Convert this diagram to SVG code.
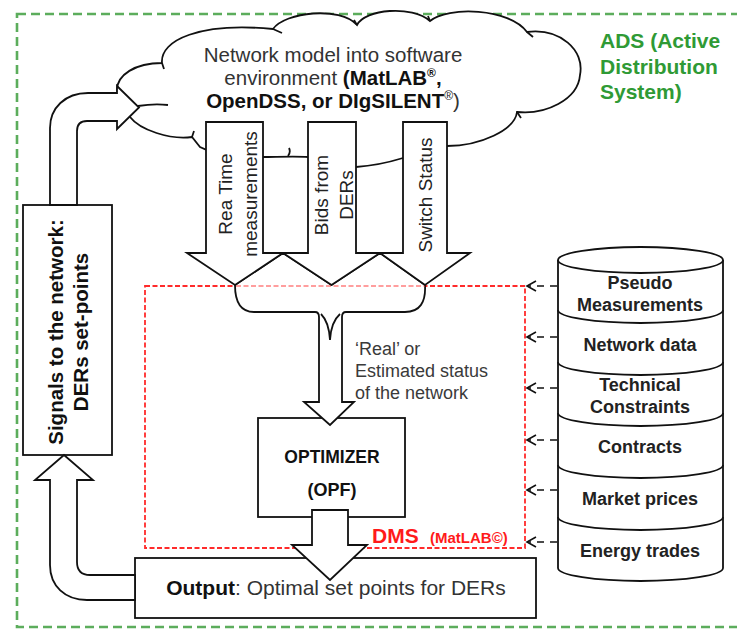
<svg xmlns="http://www.w3.org/2000/svg" width="737" height="630" viewBox="0 0 737 630">
  <style>
    .t { font-family: "Liberation Sans", Arial, sans-serif; fill: #222; }
    .b { font-weight: bold; }
    .shape { fill: #fff; stroke: #111; stroke-width: 1.8; stroke-linejoin: miter; }
    .line { fill: none; stroke: #111; stroke-width: 1.8; }
    .dash-in { fill: none; stroke: #111; stroke-width: 1.6; stroke-dasharray: 7 6; }
  </style>
  <defs>
    <marker id="openHead" markerUnits="userSpaceOnUse" markerWidth="14" markerHeight="14" refX="11" refY="7" orient="auto">
      <path d="M2,2 L11,7 L2,12" fill="none" stroke="#111" stroke-width="1.6" stroke-dasharray="none"/>
    </marker>
  </defs>

  <!-- Active distribution system boundary -->
  <g id="ads">
    <rect x="17" y="14" width="740" height="613" fill="none" stroke="#5cad5c" stroke-width="2.6" stroke-dasharray="9 5"/>
    <text class="t b" x="600" y="48" font-size="21" style="fill:#2f9a35">ADS (Active</text>
    <text class="t b" x="600" y="74" font-size="21" style="fill:#2f9a35">Distribution</text>
    <text class="t b" x="600" y="99" font-size="21" style="fill:#2f9a35">System)</text>
  </g>

  <!-- Network model cloud -->
  <g id="cloud">
    <path class="shape" d="M117,90 C117,75 135,63 162,63 C160,40 200,22 273,29 C285,12 340,6 357,25 C365,9 412,5 430,21 C447,6 510,8 527,32 C560,28 585,50 580,75 C578,100 545,115 517,112 C515,130 480,146 447,146 L403,158 C390,162 370,166 356,167 L308,157 C295,156 275,157 263,157 L207,150 L200,147 L192,137 C170,140 140,130 130,117 Z"/>
    <path class="line" d="M162,63 L164,69 M273,29 L282,33 M357,25 L354,20 M430,21 L428,16 M527,32 L533,37 M517,112 L521,118 M192,137 L194,131 M288,156 Q291,152 289,148 M138,106 C150,104 160,104 168,105"/>
    <text class="t" x="333" y="62" font-size="20.5" text-anchor="middle" style="fill:#333">Network model into software</text>
    <text class="t" x="333" y="85" font-size="20.5" text-anchor="middle"><tspan style="fill:#333">environment </tspan><tspan class="b" style="fill:#111">(MatLAB</tspan><tspan class="b" style="fill:#111" font-size="12" dy="-8">®</tspan><tspan class="b" style="fill:#111" dy="8">,</tspan></text>
    <text class="t" x="333" y="108" font-size="20.5" text-anchor="middle"><tspan class="b" style="fill:#111">OpenDSS, or DIgSILENT</tspan><tspan font-size="12" dy="-8">®</tspan><tspan dy="8" style="fill:#333">)</tspan></text>
  </g>

  <!-- Data sources cylinder -->
  <g id="database">
    <path class="shape" d="M558,260 L558,568 A82.5,13 0 0 0 723,568 L723,260"/>
    <ellipse class="shape" cx="640.5" cy="260" rx="82.5" ry="13"/>
    <path class="line" d="M558,310 A82.5,13 0 0 0 723,310 M558,362 A82.5,13 0 0 0 723,362 M558,413 A82.5,13 0 0 0 723,413 M558,465 A82.5,13 0 0 0 723,465 M558,517 A82.5,13 0 0 0 723,517"/>
    <g class="t b" font-size="18" text-anchor="middle">
      <text x="640" y="289">Pseudo</text>
      <text x="640" y="311">Measurements</text>
      <text x="640" y="351">Network data</text>
      <text x="640" y="391">Technical</text>
      <text x="640" y="413">Constraints</text>
      <text x="640" y="453">Contracts</text>
      <text x="640" y="505">Market prices</text>
      <text x="640" y="557">Energy trades</text>
    </g>
  </g>

  <!-- Distribution management system -->
  <g id="dms">
    <rect x="145" y="286" width="380" height="262" fill="none" stroke="#ff2b2b" stroke-width="1.8" stroke-dasharray="5 2.5"/>
    <text class="t b" x="372" y="543" font-size="21" style="fill:#ff1a1a">DMS</text>
    <text class="t b" x="430" y="543" font-size="15" style="fill:#ff1a1a">(MatLAB©)</text>
    <text class="t" x="355" y="355" font-size="18" style="fill:#3a3a3a">‘Real’ or</text>
    <text class="t" x="355" y="377" font-size="18" style="fill:#3a3a3a">Estimated status</text>
    <text class="t" x="355" y="399" font-size="18" style="fill:#3a3a3a">of the network</text>
  </g>

  <g id="optimizer">
    <rect class="shape" x="258" y="418" width="147" height="99"/>
    <text class="t b" x="332" y="463" font-size="17.5" text-anchor="middle" style="fill:#111">OPTIMIZER</text>
    <text class="t b" x="332" y="496" font-size="18" text-anchor="middle" style="fill:#111">(OPF)</text>
  </g>

  <g id="output">
    <rect class="shape" x="135" y="558" width="401" height="60"/>
    <text class="t" x="336" y="595" font-size="21" text-anchor="middle"><tspan class="b" style="fill:#111">Output</tspan><tspan style="fill:#333">: Optimal set points for DERs</tspan></text>
  </g>

  <g id="signals">
    <rect class="shape" x="23" y="205" width="89" height="250"/>
    <g transform="translate(75,332) rotate(-90)">
      <text class="t b" x="0" y="-12" font-size="20.5" text-anchor="middle" style="fill:#111">Signals to the network:</text>
      <text class="t b" x="0" y="13" font-size="20.5" text-anchor="middle" style="fill:#111">DERs set-points</text>
    </g>
  </g>

  <!-- Connectors -->
  <g id="connectors">
    <!-- merged inputs feeding the optimizer -->
    <path class="shape" d="M235,285 L283,253 L331.5,285 L380,253 L425,285 C426,302 420,312 405,312 L346,312 Q342,312 342,317 L342,402 L354,402 L330,425 L304,402 L319,402 L319,317 Q319,312 315,312 L254,312 C241,312 235,302 235,285 Z"/>
    <path class="line" d="M321,314 Q329,322 330,340 Q331,322 340,314"/>
    <line x1="236" y1="286" x2="425" y2="286" stroke="#ff2b2b" stroke-width="1.8" stroke-dasharray="5 2.5" opacity="0.45"/>

    <!-- inputs from the network model -->
    <path class="shape" d="M206,122 L263,122 L263,253 L283,253 L235,285 L187,253 L206,253 Z"/>
    <path class="shape" d="M308,122 L356,122 L356,253 L380,253 L331.5,285 L283,253 L308,253 Z"/>
    <path class="shape" d="M403,122 L447,122 L447,253 L470,253 L425,285 L380,253 L403,253 Z"/>
    <g class="t" font-size="19" text-anchor="middle">
      <g transform="translate(234,194) rotate(-90)">
        <text x="0" y="-2">Rea Time</text>
        <text x="0" y="23">measurements</text>
      </g>
      <g transform="translate(332,195) rotate(-90)">
        <text x="0" y="-4">Bids from</text>
        <text x="0" y="21">DERs</text>
      </g>
      <g transform="translate(425,195) rotate(-90)">
        <text x="0" y="7">Switch Status</text>
      </g>
    </g>

    <!-- optimizer to output -->
    <path class="shape" d="M312,510 L348,510 L348,545 L367,545 L330,580 L292,545 L312,545 Z"/>

    <!-- output to signals box -->
    <path class="shape" d="M135,575 L90,575 Q77,575 77,562 L77,480 L93,480 L64,455 L35,480 L50,480 L50,565 C50,586 65,600 87,600 L135,600 Z"/>

    <!-- signals back to the network model -->
    <path class="shape" d="M50,205 L50,128 C50,108 65,93 88,93 L117,93 L117,86 L139,107.5 L117,129 L117,121 L87,121 Q77,121 77,131 L77,205 Z"/>

    <!-- data sources into the DMS -->
    <g class="dash-in">
      <path d="M557,286 L527,286" marker-end="url(#openHead)"/>
      <path d="M557,337 L527,337" marker-end="url(#openHead)"/>
      <path d="M557,388 L527,388" marker-end="url(#openHead)"/>
      <path d="M557,440 L527,440" marker-end="url(#openHead)"/>
      <path d="M557,490 L527,490" marker-end="url(#openHead)"/>
      <path d="M557,542 L527,542" marker-end="url(#openHead)"/>
    </g>
  </g>
</svg>
